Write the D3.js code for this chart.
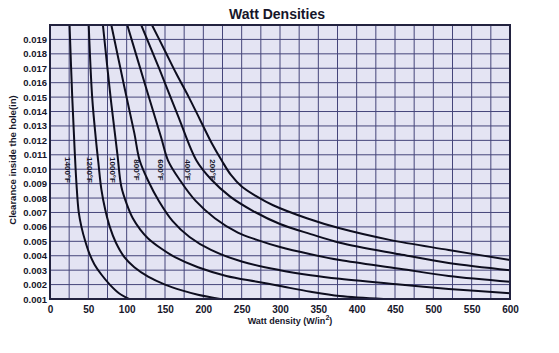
<!DOCTYPE html>
<html>
<head>
<meta charset="utf-8">
<script src="https://cdn.jsdelivr.net/npm/d3@7"></script>
<style>
  body { margin: 0; background: #fff; }
  text { font-family: "Liberation Sans", Arial, sans-serif; font-weight: bold; fill: #16162a; }
</style>
</head>
<body>
<div id="chart"></div>
<script>
// temperature labels, left to right
const temps = ['1400°F', '1200°F', '1000°F', '800°F', '600°F', '400°F', '200°F'];

// [watt density, clearance]
const c1400 = [[25.5, 0.020], [29, 0.015], [32, 0.0115], [34.5, 0.009], [37.5, 0.007], [41, 0.006], [46, 0.005],
  [51, 0.0042], [58, 0.0034], [67, 0.0027], [78, 0.0020], [90, 0.0014], [103, 0.001]];
const c1200 = [[50.5, 0.020], [55, 0.015], [60, 0.012], [63, 0.0105], [67, 0.0086], [72, 0.0072], [78, 0.0060],
  [86, 0.0049], [97, 0.0039], [110, 0.0032], [128, 0.00255], [150, 0.0020], [172, 0.0016], [193, 0.0013], [222, 0.001]];
const c1000 = [[69, 0.020], [79, 0.015], [88, 0.011], [93, 0.0088], [100, 0.0076], [108, 0.0066], [118, 0.0058],
  [128, 0.0052], [145, 0.0045], [163, 0.0039], [193, 0.0032], [230, 0.0026], [270, 0.0022], [300, 0.0019],
  [340, 0.0015], [378, 0.0012], [435, 0.001]];
const c800 = [[80, 0.020], [97, 0.0157], [110, 0.0125], [117, 0.0106], [128, 0.0092], [142, 0.0078], [160, 0.0064],
  [182, 0.0053], [210, 0.0044], [250, 0.0036], [300, 0.0030], [340, 0.00265], [378, 0.0024], [456, 0.0020],
  [520, 0.0017], [600, 0.0014]];
const c600 = [[100.8, 0.020], [125, 0.0157], [145, 0.0122], [154, 0.0106], [170, 0.0092], [190, 0.0078],
  [215, 0.0066], [245, 0.0056], [270, 0.0051], [300, 0.0046], [340, 0.0041], [378, 0.0037], [456, 0.0031],
  [520, 0.0026], [600, 0.0022]];
const c400 = [[119, 0.020], [143, 0.0169], [167, 0.0137], [191, 0.0106], [210, 0.0093], [235, 0.0081],
  [265, 0.0071], [300, 0.0062], [340, 0.0055], [378, 0.0049], [456, 0.0041], [520, 0.0035], [600, 0.0030]];
const c200 = [[133, 0.020], [150, 0.0182], [165, 0.0166], [181, 0.0150], [196, 0.0134], [211, 0.0118],
  [224, 0.0106], [236, 0.0096], [250, 0.0088], [270, 0.0081], [291, 0.0075], [335, 0.0066], [378, 0.0059],
  [443, 0.0051], [520, 0.0044], [600, 0.0037]];
const curves = [c1400, c1200, c1000, c800, c600, c400, c200];

// watt density at which each rotated label sits
const labelX = [23, 52, 82, 113, 144, 180, 213];

const xTicks = d3.range(0, 601, 50);
const yTicks = d3.range(1, 20).map(d => d / 1000);

const chartWidth = 559;
const chartHeight = 353;

const xScale = d3.scaleLinear().domain([0, 600]).range([50, 510]);
const yScale = d3.scaleLinear().domain([0.001, 0.020]).range([299, 25]);

const svg = d3.select('#chart')
  .append('svg')
  .attr('width', chartWidth)
  .attr('height', chartHeight);

svg.append('defs').append('clipPath').attr('id', 'plot')
  .append('rect')
  .attr('x', 50).attr('y', 25).attr('width', 460).attr('height', 274);

svg.append('rect')
  .attr('x', 50).attr('y', 25).attr('width', 460).attr('height', 274)
  .attr('fill', '#e4e4f3');

// grid
svg.append('g')
  .selectAll('line')
  .data(d3.range(25, 600, 25))
  .enter()
  .append('line')
  .attr('x1', d => xScale(d)).attr('x2', d => xScale(d))
  .attr('y1', 25).attr('y2', 299)
  .attr('stroke', '#45457a').attr('stroke-width', 1);

svg.append('g')
  .selectAll('line')
  .data(yTicks.slice(1))
  .enter()
  .append('line')
  .attr('x1', 50).attr('x2', 510)
  .attr('y1', d => yScale(d)).attr('y2', d => yScale(d))
  .attr('stroke', '#45457a').attr('stroke-width', 1);

// curves
const line = d3.line()
  .x(d => xScale(d[0]))
  .y(d => yScale(d[1]))
  .curve(d3.curveCatmullRom.alpha(0.5));

svg.append('g')
  .attr('clip-path', 'url(#plot)')
  .selectAll('path')
  .data(curves)
  .enter()
  .append('path')
  .attr('d', line)
  .attr('fill', 'none')
  .attr('stroke', '#0d0d1e')
  .attr('stroke-width', 2);

// curve labels, rotated
svg.selectAll('.tlabel')
  .data(temps)
  .enter()
  .append('text')
  .attr('class', 'tlabel')
  .attr('transform', (d, i) => `translate(${xScale(labelX[i])},170) rotate(90)`)
  .attr('text-anchor', 'middle')
  .attr('dy', '0.35em')
  .style('font-size', '8px')
  .text(d => d);

// frame
svg.append('rect')
  .attr('x', 50).attr('y', 25).attr('width', 460).attr('height', 274)
  .attr('fill', 'none')
  .attr('stroke', '#22223f').attr('stroke-width', 2);

// axes
const xAxis = d3.axisBottom(xScale).tickValues(xTicks).tickSize(0).tickPadding(7);
const yAxis = d3.axisLeft(yScale).tickValues(yTicks).tickSize(0).tickPadding(3).tickFormat(d3.format('.3f'));

const gx = svg.append('g').attr('transform', 'translate(0,299)').call(xAxis);
gx.select('.domain').remove();
gx.selectAll('text').style('font-size', '10px').style('font-family', '"Liberation Sans", Arial, sans-serif').attr('fill', '#16162a');

const gy = svg.append('g').attr('transform', 'translate(50,0)').call(yAxis);
gy.select('.domain').remove();
gy.selectAll('text').style('font-size', '9.5px').style('font-family', '"Liberation Sans", Arial, sans-serif').attr('fill', '#16162a');

// titles
svg.append('text')
  .attr('x', 277).attr('y', 19)
  .attr('text-anchor', 'middle')
  .style('font-size', '14px')
  .text('Watt Densities');

const xt = svg.append('text')
  .attr('x', 290).attr('y', 324)
  .attr('text-anchor', 'middle')
  .style('font-size', '9px');
xt.append('tspan').text('Watt density (W/in');
xt.append('tspan').attr('dy', -4).style('font-size', '7px').text('2');
xt.append('tspan').attr('dy', 4).text(')');

svg.append('text')
  .attr('transform', 'translate(16,160) rotate(-90)')
  .attr('text-anchor', 'middle')
  .style('font-size', '9.5px')
  .text('Clearance inside the hole(in)');
</script>
</body>
</html>
